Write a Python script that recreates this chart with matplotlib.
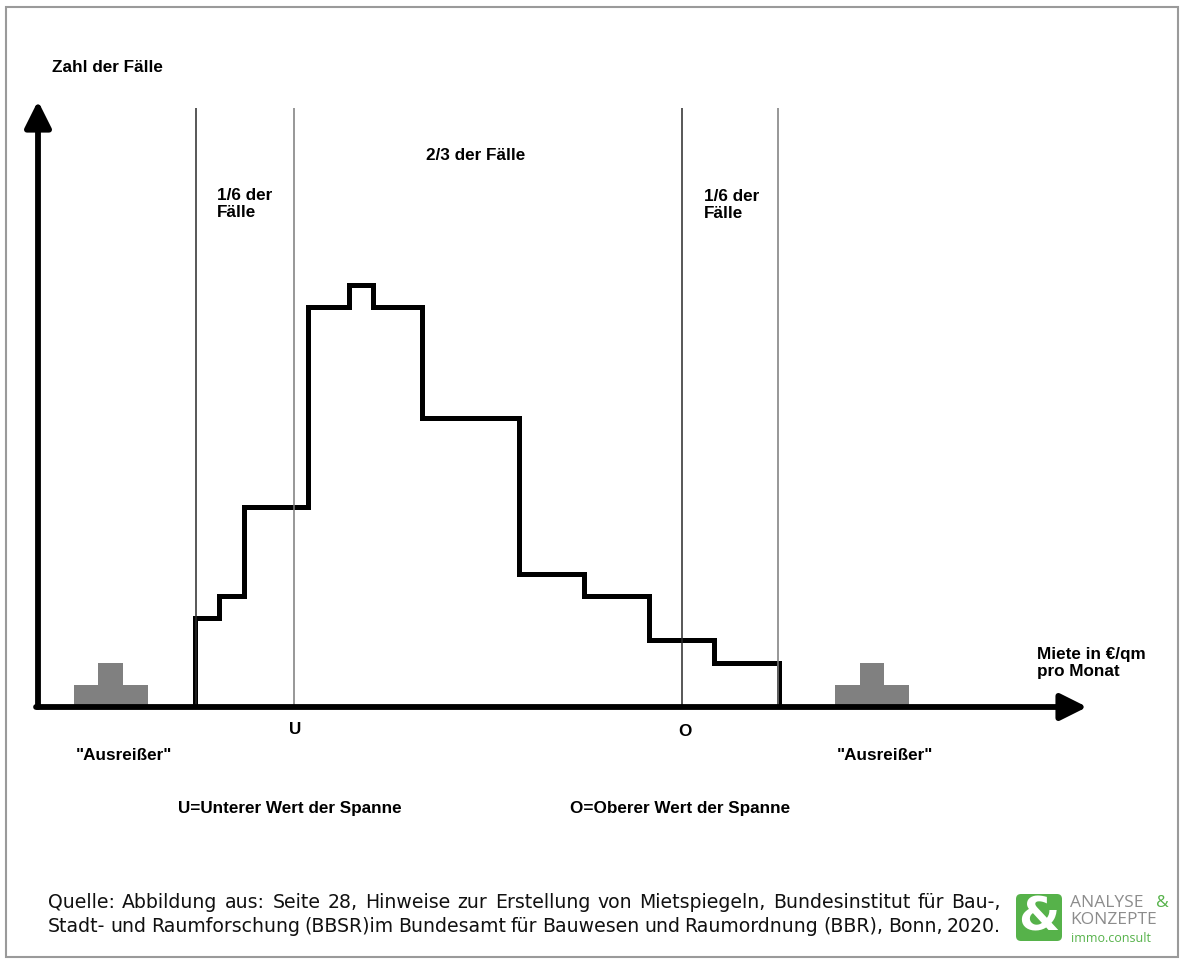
import matplotlib
matplotlib.use('Agg')
import matplotlib.pyplot as plt
from matplotlib.patches import Rectangle, FancyBboxPatch

# schematic rent distribution (arbitrary units)
bin_edges = [24.2, 27.8, 31.7, 41.5, 47.8, 51.5, 59.1, 74, 84, 94, 104, 114]
counts = [4, 5, 9, 18, 19, 18, 13, 6, 5, 3, 2]

outlier_left_edges = [5.5, 9.3, 13.1, 16.9]
outlier_right_edges = [122.6, 126.4, 130.2, 134.0]
outlier_counts = [1, 2, 1]

lower_limit = 24.3
u_value = 39.4
o_value = 99.1
upper_limit = 113.8
line_top = 27.0

x_axis_end = 161.4
y_axis_end = 27.3

source_lines = [
    'Quelle: Abbildung aus: Seite 28, Hinweise zur Erstellung von Mietspiegeln, Bundesinstitut für Bau-,',
    'Stadt- und Raumforschung (BBSR)im Bundesamt für Bauwesen und Raumordnung (BBR), Bonn, 2020.',
]

W, H = 1182, 961
BOLD = dict(family='Liberation Sans', fontweight='bold', fontsize=12.3, color='black')


def px(x, y):
    return x / W, 1 - y / H


def label(fig, x, y, s, **kw):
    opts = dict(BOLD)
    opts.update(kw)
    fig.text(*px(x, y), s, va='center', ha='left', linespacing=1.12, **opts)


def justify(fig, line, x0, x1, y, **kw):
    words = line.split(' ')
    r = fig.canvas.get_renderer()
    texts = [fig.text(0, 0, w, va='baseline', ha='left', **kw) for w in words]
    widths = [t.get_window_extent(r).width for t in texts]
    gap = (x1 - x0 - sum(widths)) / (len(words) - 1)
    x = x0
    for t, w in zip(texts, widths):
        t.set_position(px(x, y))
        x += w + gap


def fit_size(fig, line, width, family):
    # font size at which the line, set normally, is a bit narrower than width
    r = fig.canvas.get_renderer()
    t = fig.text(0, 0, line, family=family, fontsize=10)
    w = t.get_window_extent(r).width
    t.remove()
    return 10 * width / w


def main():
    fig = plt.figure(figsize=(W / 100, H / 100), dpi=100)
    fig.patch.set_facecolor('white')

    # chart area: 1 x-unit = 6.5 px, 1 y-unit = 22.2 px
    ax = fig.add_axes([38 / W, (H - 707) / H, (W - 38) / W, 707 / H])
    ax.set_xlim(0, (W - 38) / 6.5)
    ax.set_ylim(0, 707 / 22.2)
    ax.axis('off')

    ax.stairs(outlier_counts, outlier_left_edges, fill=True, color='#808080')
    ax.stairs(outlier_counts, outlier_right_edges, fill=True, color='#808080')

    ax.vlines([lower_limit, o_value], 0, line_top, color='#2a2a2a', lw=1.1)
    ax.vlines([u_value, upper_limit], 0, line_top, color='#7a7a7a', lw=1.1)

    st = ax.stairs(counts, bin_edges, baseline=0, color='black', lw=3.6)
    st.set_joinstyle('miter')

    arrow = dict(arrowstyle='-|>', lw=4.2, color='black', mutation_scale=40,
                 shrinkA=0, shrinkB=0)
    ax.annotate('', xy=(x_axis_end, 0), xytext=(-0.3, 0), arrowprops=arrow,
                annotation_clip=False)
    ax.annotate('', xy=(0, y_axis_end), xytext=(0, 0), arrowprops=arrow,
                annotation_clip=False)

    # labels
    label(fig, 52, 67, 'Zahl der Fälle')
    label(fig, 217, 204, '1/6 der\nFälle')
    label(fig, 426, 155, '2/3 der Fälle')
    label(fig, 704, 205, '1/6 der\nFälle')
    label(fig, 1037, 663, 'Miete in €/qm\npro Monat')
    fig.text(*px(295, 729), 'U', va='center', ha='center', **BOLD)
    fig.text(*px(685, 732), 'O', va='center', ha='center', **BOLD)
    label(fig, 76, 755, '"Ausreißer"')
    label(fig, 837, 756, '"Ausreißer"')
    label(fig, 178, 808, 'U=Unterer Wert der Spanne')
    label(fig, 570, 808, 'O=Oberer Wert der Spanne')

    fam = 'DejaVu Sans'
    size = fit_size(fig, source_lines[0], 930, fam)
    src = dict(family=fam, fontsize=size, color='#111111')
    justify(fig, source_lines[0], 48, 1001, 908, **src)
    justify(fig, source_lines[1], 48, 1001, 932, **src)

    # logo
    lax = fig.add_axes([1005 / W, 1 - 955 / H, 175 / W, 70 / H])
    lax.set_xlim(1005, 1180)
    lax.set_ylim(955, 885)
    lax.axis('off')
    lax.add_patch(FancyBboxPatch((1016, 894), 46, 47,
                                 boxstyle='round,pad=0,rounding_size=5',
                                 fc='#56b24a', ec='none'))
    lax.text(1039, 918, '&', color='white', fontsize=34, fontweight='bold',
             family='DejaVu Sans', ha='center', va='center')
    lax.text(1070, 903, 'ANALYSE ', color='#8c8c8c', fontsize=12.5,
             family='Open Sans', ha='left', va='center')
    lax.text(1156, 903, '&', color='#56b24a', fontsize=12.5,
             family='Open Sans', ha='left', va='center')
    lax.text(1070, 920, 'KONZEPTE', color='#8c8c8c', fontsize=12.5,
             family='Open Sans', ha='left', va='center')
    lax.text(1071, 938, 'immo.consult', color='#56b24a', fontsize=9,
             family='Open Sans', ha='left', va='center')

    # frame
    fig.add_artist(Rectangle(px(6, 957), (1178 - 6) / W, (957 - 7) / H,
                             transform=fig.transFigure, fill=False,
                             ec='#9a9a9a', lw=1.5))

    fig.savefig('out.png', dpi=100)


if __name__ == '__main__':
    main()
